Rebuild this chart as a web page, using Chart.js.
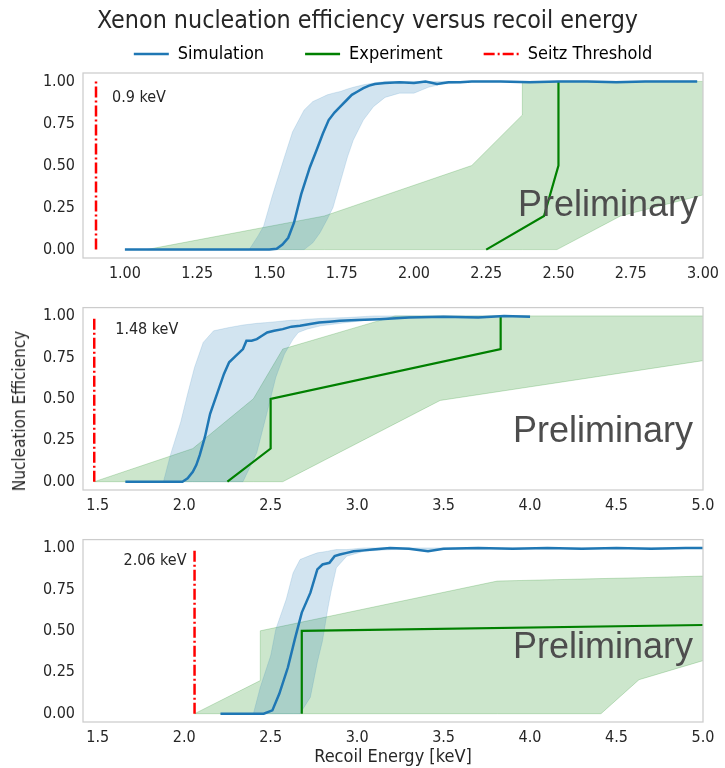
<!DOCTYPE html>
<html>
<head>
<meta charset="utf-8">
<title>Xenon nucleation efficiency</title>
<script src="https://cdn.jsdelivr.net/npm/chart.js@4.4.1/dist/chart.umd.min.js"></script>
<style>
  body { margin: 0; background: #fff; }
  #figure { position: relative; width: 725px; height: 768px; font-family: 'DejaVu Sans Condensed', 'DejaVu Sans', sans-serif; color: #262626; }
  .panel { position: absolute; left: 0; width: 725px; }
  #panel1 { top: 0; height: 290px; }
  #panel2 { top: 290px; height: 232px; }
  #panel3 { top: 522px; height: 246px; }
  #suptitle { position: absolute; top: 5px; left: 5px; width: 725px; text-align: center; font-size: 24.8px; white-space: nowrap; }
  #ylabel { position: absolute; left: 19px; top: 411px; transform: translate(-50%, -50%) rotate(-90deg); white-space: nowrap; font-size: 17px; }
</style>
</head>
<body>
<div id="figure">
  <div class="panel" id="panel1"><canvas id="c1"></canvas></div>
  <div class="panel" id="panel2"><canvas id="c2"></canvas></div>
  <div class="panel" id="panel3"><canvas id="c3"></canvas></div>
  <div id="suptitle">Xenon nucleation efficiency versus recoil energy</div>
  <div id="ylabel">Nucleation Efficiency</div>
</div>
<script>
// Seitz thresholds (keV) for the three pressures
const seitz = [0.9, 1.48, 2.06];

const xTicks1 = [1.0, 1.25, 1.5, 1.75, 2.0, 2.25, 2.5, 2.75, 3.0];
const xTicks23 = [1.5, 2.0, 2.5, 3.0, 3.5, 4.0, 4.5, 5.0];
const yTicks = [0, 0.25, 0.5, 0.75, 1.0];

// panel 1 -- 0.9 keV
const simX1 = [1.00, 1.50, 1.525, 1.545, 1.565, 1.585, 1.61, 1.64, 1.665, 1.685, 1.705, 1.725, 1.745, 1.765, 1.785, 1.805, 1.825, 1.845, 1.865, 1.90, 1.95, 2.00, 2.04, 2.08, 2.12, 2.16, 2.20, 2.30, 2.40, 2.50, 2.60, 2.70, 2.80, 2.90, 2.98];
const simY1 = [0, 0, 0.005, 0.03, 0.07, 0.16, 0.33, 0.49, 0.60, 0.69, 0.77, 0.815, 0.85, 0.885, 0.92, 0.94, 0.96, 0.975, 0.985, 0.99, 0.995, 0.99, 1.0, 0.985, 0.995, 0.995, 1.0, 1.0, 0.995, 1.0, 1.0, 0.995, 1.0, 1.0, 1.0];
const simBandX1 = [1.00, 1.43, 1.46, 1.48, 1.51, 1.55, 1.58, 1.62, 1.65, 1.675, 1.70, 1.72, 1.745, 1.77, 1.79, 1.825, 1.86, 1.90, 1.95, 2.00, 2.05, 2.10, 2.15, 2.20, 2.98];
const simHigh1 = [0, 0, 0.08, 0.14, 0.32, 0.54, 0.70, 0.83, 0.88, 0.90, 0.92, 0.93, 0.94, 0.955, 0.965, 0.98, 0.99, 1.0, 1.0, 1.0, 1.0, 1.0, 1.0, 1.0, 1.0];
const simLow1 = [0, 0, 0, 0, 0, 0, 0, 0, 0.04, 0.10, 0.18, 0.25, 0.40, 0.55, 0.65, 0.77, 0.85, 0.905, 0.93, 0.93, 0.965, 0.985, 0.99, 1.0, 1.0];
const expX1 = [2.25, 2.45, 2.50, 2.50];
const expY1 = [0, 0.2, 0.5, 1.0];
const expBandX1 = [1.075, 1.69, 2.20, 2.375, 2.375, 2.495, 2.715, 3.00];
const expHigh1 = [0, 0.2, 0.5, 0.8, 1.0, 1.0, 1.0, 1.0];
const expLow1 = [0, 0, 0, 0, 0, 0, 0.2, 0.325];

// panel 2 -- 1.48 keV
const simX2 = [1.66, 1.99, 2.02, 2.05, 2.07, 2.09, 2.12, 2.15, 2.19, 2.23, 2.26, 2.30, 2.34, 2.36, 2.39, 2.42, 2.45, 2.48, 2.52, 2.57, 2.62, 2.67, 2.72, 2.78, 2.84, 2.90, 3.00, 3.13, 3.30, 3.50, 3.70, 3.85, 4.00];
const simY2 = [0, 0, 0.02, 0.06, 0.10, 0.16, 0.27, 0.41, 0.53, 0.65, 0.72, 0.76, 0.80, 0.85, 0.85, 0.86, 0.88, 0.90, 0.91, 0.92, 0.935, 0.94, 0.95, 0.96, 0.965, 0.97, 0.975, 0.98, 0.99, 0.995, 0.99, 1.0, 0.995];
const simBandX2 = [1.66, 1.88, 1.92, 1.98, 2.02, 2.06, 2.11, 2.17, 2.26, 2.34, 2.42, 2.48, 2.53, 2.58, 2.63, 2.66, 2.71, 2.79, 2.94, 3.10, 3.30, 4.00];
const simHigh2 = [0, 0, 0.16, 0.36, 0.53, 0.69, 0.84, 0.91, 0.93, 0.945, 0.955, 0.96, 0.965, 0.97, 0.975, 0.975, 0.98, 0.985, 0.99, 1.0, 1.0, 1.0];
const simLow2 = [0, 0, 0, 0, 0, 0, 0, 0, 0, 0, 0.175, 0.42, 0.63, 0.77, 0.86, 0.90, 0.92, 0.94, 0.96, 0.98, 0.99, 1.0];
const expX2 = [2.25, 2.50, 2.50, 3.83, 3.83];
const expY2 = [0, 0.2, 0.5, 0.8, 1.0];
const expBandX2 = [1.48, 2.05, 2.40, 2.57, 3.22, 3.48, 5.00];
const expHigh2 = [0, 0.2, 0.5, 0.8, 1.0, 1.0, 1.0];
const expLow2 = [0, 0, 0, 0, 0.35, 0.49, 0.73];

// panel 3 -- 2.06 keV
const simX3 = [2.21, 2.46, 2.51, 2.55, 2.60, 2.64, 2.68, 2.73, 2.77, 2.80, 2.84, 2.87, 2.90, 2.94, 2.98, 3.04, 3.09, 3.19, 3.30, 3.41, 3.50, 3.70, 3.90, 4.10, 4.30, 4.50, 4.70, 4.90, 5.00];
const simY3 = [0, 0, 0.02, 0.12, 0.28, 0.45, 0.61, 0.73, 0.87, 0.90, 0.91, 0.95, 0.96, 0.97, 0.98, 0.985, 0.99, 1.0, 0.995, 0.98, 0.995, 1.0, 0.995, 1.0, 0.995, 1.0, 0.995, 1.0, 1.0];
const simBandX3 = [2.21, 2.40, 2.44, 2.50, 2.53, 2.59, 2.63, 2.67, 2.73, 2.77, 2.80, 2.83, 2.85, 2.88, 2.94, 3.04, 3.20, 5.00];
const simHigh3 = [0, 0, 0.16, 0.35, 0.51, 0.69, 0.85, 0.93, 0.955, 0.97, 0.975, 0.98, 0.985, 0.99, 0.99, 1.0, 1.0, 1.0];
const simLow3 = [0, 0, 0, 0, 0, 0, 0, 0, 0.10, 0.31, 0.44, 0.63, 0.74, 0.88, 0.95, 0.98, 0.99, 1.0];
const expX3 = [2.68, 2.68, 5.00];
const expY3 = [0, 0.5, 0.535];
const expBandX3 = [2.06, 2.44, 2.44, 3.81, 4.41, 4.63, 5.00];
const expHigh3 = [0, 0.2, 0.5, 0.8, 0.815, 0.82, 0.83];
const expLow3 = [0, 0, 0, 0, 0, 0.205, 0.32];

const FONT = "'DejaVu Sans Condensed', 'DejaVu Sans', sans-serif";
const INK = '#262626';
const BLUE = '#1f77b4';
const GREEN = '#008000';
const RED = '#ff0000';

Chart.defaults.font.family = FONT;
Chart.defaults.color = INK;

function pts(xs, ys) {
    return xs.map((x, i) => ({ x: x, y: ys[i] }));
}

// frame, threshold note and the "Preliminary" stamp
const panelDecor = {
    id: 'panelDecor',
    afterDatasetsDraw(chart, args, opts) {
        const { ctx, chartArea: a, scales } = chart;
        ctx.save();
        ctx.strokeStyle = '#cccccc';
        ctx.lineWidth = 1.25;
        ctx.strokeRect(a.left, a.top, a.width, a.height);

        ctx.font = '16px ' + FONT;
        ctx.fillStyle = INK;
        ctx.textAlign = opts.noteAlign;
        ctx.textBaseline = 'middle';
        ctx.fillText(opts.seitz + ' keV', scales.x.getPixelForValue(opts.seitz) + opts.noteDx, a.top + opts.noteDy);

        ctx.font = "36px 'Liberation Sans', Arial, sans-serif";
        ctx.fillStyle = '#4d4d4d';
        ctx.textAlign = 'right';
        ctx.textBaseline = 'alphabetic';
        ctx.fillText('Preliminary', a.right - opts.stampRight, a.bottom - opts.stampBottom);
        ctx.restore();
    }
};

function makePanel(id, p) {
    const datasets = [
        { label: 'Simulation', data: pts(p.simX, p.simY), borderColor: BLUE, borderWidth: 2.5 },
        { label: 'Experiment', data: pts(p.expX, p.expY), borderColor: GREEN, borderWidth: 2.2 },
        { label: 'Seitz Threshold', data: pts([p.seitz, p.seitz], [0, 1]), borderColor: RED, borderWidth: 2.5, borderDash: [11, 3, 2, 3] },
        { label: 'sim-low', data: pts(p.bandX, p.low), borderColor: 'rgba(31,119,180,0.15)', borderWidth: 1 },
        { label: 'sim-high', data: pts(p.bandX, p.high), borderColor: 'rgba(31,119,180,0.15)', borderWidth: 1, fill: '-1', backgroundColor: 'rgba(31,119,180,0.2)' },
        { label: 'exp-low', data: pts(p.expBandX, p.expLow), borderColor: 'rgba(0,128,0,0.2)', borderWidth: 1 },
        { label: 'exp-high', data: pts(p.expBandX, p.expHigh), borderColor: 'rgba(0,128,0,0.2)', borderWidth: 1, fill: '-1', backgroundColor: 'rgba(0,128,0,0.2)' }
    ];
    datasets.forEach(d => {
        d.pointRadius = 0;
        d.tension = 0;
        if (!d.fill) d.fill = false;
    });

    return new Chart(document.getElementById(id), {
        type: 'line',
        data: { datasets: datasets },
        plugins: [panelDecor],
        options: {
            responsive: true,
            maintainAspectRatio: false,
            animation: false,
            events: [],
            layout: { padding: p.padding },
            scales: {
                x: {
                    type: 'linear',
                    min: p.xmin,
                    max: p.xmax,
                    grid: { display: false, drawTicks: false },
                    border: { display: false },
                    ticks: {
                        includeBounds: false,
                        autoSkip: false,
                        maxRotation: 0,
                        padding: 6,
                        font: { size: 16 },
                        color: INK,
                        callback: v => v.toFixed(p.decimals)
                    },
                    afterBuildTicks: s => { s.ticks = p.xTicks.map(v => ({ value: v })); },
                    afterFit: s => { s.height = p.xHeight; },
                    title: {
                        display: !!p.xTitle,
                        text: p.xTitle || '',
                        font: { size: 18 },
                        color: INK,
                        padding: { top: 2, bottom: 0 }
                    }
                },
                y: {
                    min: -0.05,
                    max: 1.05,
                    grid: { display: false, drawTicks: false },
                    border: { display: false },
                    ticks: {
                        padding: 8,
                        font: { size: 16 },
                        color: INK,
                        callback: v => v.toFixed(2)
                    },
                    afterBuildTicks: s => { s.ticks = yTicks.map(v => ({ value: v })); },
                    afterFit: s => { s.width = 83; }
                }
            },
            plugins: {
                tooltip: { enabled: false },
                legend: {
                    display: !!p.legend,
                    position: 'top',
                    align: 'center',
                    fullSize: false,
                    maxHeight: 69,
                    labels: {
                        usePointStyle: true,
                        pointStyleWidth: 35,
                        padding: 41,
                        color: INK,
                        font: { size: 18 },
                        generateLabels: chart => chart.data.datasets.slice(0, 3).map((d, i) => ({
                            text: d.label,
                            strokeStyle: d.borderColor,
                            fillStyle: d.borderColor,
                            lineWidth: 2.5,
                            lineDash: d.borderDash || [],
                            pointStyle: 'line',
                            hidden: false,
                            datasetIndex: i
                        }))
                    }
                },
                panelDecor: {
                    seitz: p.seitz,
                    noteAlign: p.noteAlign,
                    noteDx: p.noteDx,
                    noteDy: p.noteDy,
                    stampRight: p.stampRight,
                    stampBottom: p.stampBottom
                }
            }
        }
    });
}

makePanel('c1', {
    simX: simX1, simY: simY1, bandX: simBandX1, low: simLow1, high: simHigh1,
    expX: expX1, expY: expY1, expBandX: expBandX1, expLow: expLow1, expHigh: expHigh1,
    seitz: seitz[0], xmin: 0.855, xmax: 3.0, xTicks: xTicks1, decimals: 2,
    padding: { top: 4, left: 0, right: 22, bottom: 0 }, xHeight: 32, legend: true,
    noteAlign: 'left', noteDx: 16, noteDy: 25, stampRight: 5, stampBottom: 42
});
makePanel('c2', {
    simX: simX2, simY: simY2, bandX: simBandX2, low: simLow2, high: simHigh2,
    expX: expX2, expY: expY2, expBandX: expBandX2, expLow: expLow2, expHigh: expHigh2,
    seitz: seitz[1], xmin: 1.415, xmax: 5.0, xTicks: xTicks23, decimals: 1,
    padding: { top: 13, left: 0, right: 22, bottom: 0 }, xHeight: 32,
    noteAlign: 'left', noteDx: 21, noteDy: 22, stampRight: 10, stampBottom: 48
});
makePanel('c3', {
    simX: simX3, simY: simY3, bandX: simBandX3, low: simLow3, high: simHigh3,
    expX: expX3, expY: expY3, expBandX: expBandX3, expLow: expLow3, expHigh: expHigh3,
    seitz: seitz[2], xmin: 1.415, xmax: 5.0, xTicks: xTicks23, decimals: 1,
    padding: { top: 14, left: 0, right: 22, bottom: 0 }, xHeight: 46, xTitle: 'Recoil Energy [keV]',
    noteAlign: 'right', noteDx: -8, noteDy: 21, stampRight: 10, stampBottom: 64
});
</script>
</body>
</html>
